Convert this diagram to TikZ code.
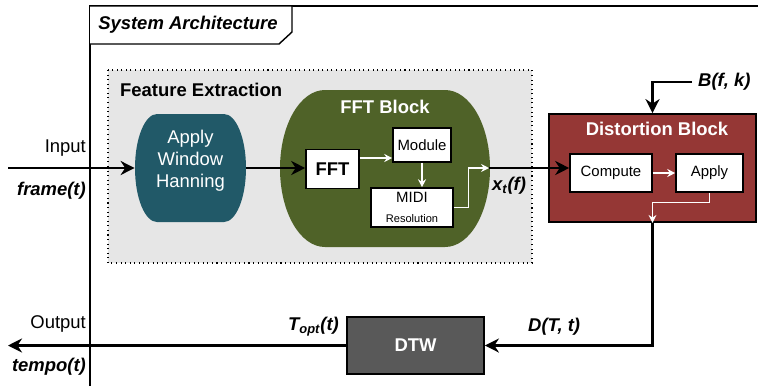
\documentclass[tikz,border=0pt]{standalone}
\usepackage{fontspec}
\setmainfont{Liberation Sans}
\usetikzlibrary{arrows.meta}
\definecolor{hanncol}{HTML}{215968}
\definecolor{fftcol}{HTML}{4F6228}
\definecolor{distcol}{HTML}{953735}
\definecolor{dtwcol}{HTML}{595959}
\definecolor{featcol}{HTML}{E6E6E6}

\begin{document}
\begin{tikzpicture}[x=0.02cm,y=-0.02cm,
  font=\fontsize{10.5}{12.6}\selectfont,
  bline/.style={line width=1.6pt,-{Stealth[length=8pt,width=8pt]}},
  wline/.style={white,line width=0.8pt,-{Stealth[length=4.5pt,width=4.5pt]}},
  inbox/.style={draw,fill=white,line width=0.9pt,inner sep=0pt,font=\fontsize{8.5}{10}\selectfont},
  sig/.style={font=\fontsize{10.5}{12.6}\selectfont\bfseries\itshape},
  title/.style={font=\fontsize{10.5}{12.6}\selectfont\bfseries}]
\useasboundingbox (0,0) rectangle (761,386);
\draw[line width=0.8pt] (90,386) -- (90,6) -- (758,6);
\draw[line width=0.8pt,fill=white] (90,6) -- (292,6) -- (292,32) -- (279,44) -- (90,44);
\node[sig] (sysarch) at (188,25) {System Architecture};
\draw[dotted,line width=0.6pt,fill=featcol] (108,70) rectangle (532,263);
\node[title,anchor=west] (feat) at (114,90) {Feature Extraction};
\fill[hanncol] (157,114) -- (224,114) .. controls (236,114) and (246,138) .. (246,168) .. controls (246,198) and (236,222) .. (224,222) -- (157,222) .. controls (145,222) and (135,198) .. (135,168) .. controls (135,138) and (145,114) .. (157,114) -- cycle;
\node[minimum width=2.22cm,minimum height=2.16cm] (hann) at (190.5,168) {};
\node[text=white,align=center] (hanntxt) at (190.5,161) {Apply\\Window\\Hanning};
\fill[fftcol] (325,90) -- (445,90) .. controls (470,90) and (490,125) .. (490,168.5) .. controls (490,212) and (470,247) .. (445,247) -- (325,247) .. controls (300,247) and (280,212) .. (280,168.5) .. controls (280,125) and (300,90) .. (325,90) -- cycle;
\node[minimum width=4.2cm,minimum height=3.14cm] (fftblk) at (385,168.5) {};
\node[title,text=white] (fftttl) at (385,107) {FFT Block};
\node[inbox,minimum width=1.06cm,minimum height=0.78cm,font=\fontsize{10.5}{12.6}\selectfont\bfseries] (fft) at (332.5,169) {FFT};
\node[inbox,minimum width=1.16cm,minimum height=0.68cm] (module) at (422,145) {Module};
\node[inbox,minimum width=1.64cm,minimum height=0.78cm,align=center] (midi) at (412,207.5) {MIDI\\[1pt]{\fontsize{6.3}{7}\selectfont Resolution}};
\node[draw,fill=distcol,line width=1pt,minimum width=4.14cm,minimum height=2.16cm] (dist) at (652.5,168) {};
\node[title,text=white] (distttl) at (657,129) {Distortion Block};
\node[inbox,minimum width=1.64cm,minimum height=0.76cm] (comp) at (611,173) {Compute};
\node[inbox,minimum width=1.34cm,minimum height=0.76cm] (apply) at (709.5,173) {Apply};
\node[draw,fill=dtwcol,line width=1pt,text=white,minimum width=2.74cm,minimum height=1.14cm,title] (dtw) at (415.5,345.5) {DTW};
\node[anchor=east] (inlbl) at (92,148) {Input};
\node[sig,anchor=east] (frlbl) at (92,191) {frame(t)};
\node[anchor=east] (outlbl) at (92,324) {Output};
\node[sig,anchor=east] (tplbl) at (92,367) {tempo(t)};
\node[sig,anchor=east] (toptlbl) at (345,327) {T\textsubscript{opt}(t)};
\node[sig,anchor=west] (dlbl) at (522,327) {D(T, t)};
\node[sig] (xlbl) at (509,186) {x\textsubscript{t}(f)};
\node[sig,anchor=west] (bfk) at (692,82) {B(f, k)};
\coordinate (inp) at (8,168);
\coordinate (outp) at (8,345.5);
\coordinate (xout) at (489,168);
\draw[bline] (inp) -- (hann.west);
\draw[bline] (hann.east) -- (hann.east -| fft.west);
\draw[wline] ([yshift=0.22cm]fft.east) -- ([yshift=0.22cm]fft.east -| module.west);
\draw[wline] (module.south) -- (midi.north -| module.south);
\draw[wline] (midi.east) -- ++(15,0) |- (xout);
\draw[bline] (xout) -- (xout -| comp.west);
\draw[wline] (comp.east) -- (apply.west);
\draw[wline] (apply.south) -- ++(0,10) -| (dist.south);
\draw[bline] (dist.south) |- (dtw.east);
\draw[bline] (dtw.west) -- (outp);
\draw[bline] (bfk.west) -| (dist.north);
\end{tikzpicture}
\end{document}
